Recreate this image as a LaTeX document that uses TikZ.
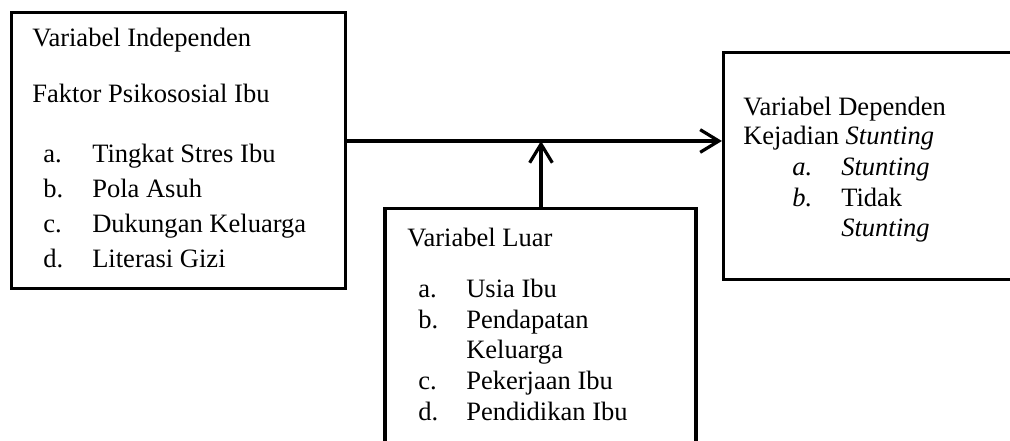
\documentclass[tikz,border=0pt]{standalone}
\usepackage{fontspec}
\setmainfont{Liberation Serif}
\usetikzlibrary{arrows.meta,fit}
\begin{document}
\begin{tikzpicture}[x=0.75pt,y=-0.75pt,
  box/.style={draw,line width=2.4pt,inner sep=0pt},
  txt/.style={anchor=base west,inner sep=0pt,font=\fontsize{19.9}{24}\selectfont},
  conn/.style={line width=2.4pt,-{Straight Barb[length=14pt,width=17pt,line width=2.4pt]}},
  plain/.style={line width=2.4pt}]
\useasboundingbox (0,0) rectangle (1010,441);
\clip (0,0) rectangle (1010,441);
% boxes
\coordinate (a1) at (11.5,12.5); \coordinate (a2) at (345.5,288.5);
\node[box,fit=(a1)(a2)] (iv) {};
\coordinate (b1) at (385,208.5); \coordinate (b2) at (696,470);
\node[box,fit=(b1)(b2)] (lu) {};
\coordinate (c1) at (723.5,52.5); \coordinate (c2) at (1030,279.5);
\node[box,fit=(c1)(c2)] (dv) {};
% texts box 1
\node[txt] (t1) at (32,47) {Variabel Independen};
\node[txt] (t2) at (32,103) {Faktor Psikososial Ibu};
\node[txt] (l1a) at (43,163) {a.};
\node[txt] (l1b) at (43,198) {b.};
\node[txt] (l1c) at (43,233) {c.};
\node[txt] (l1d) at (43,268) {d.};
\node[txt] (i1a) at (92,163) {Tingkat Stres Ibu};
\node[txt] (i1b) at (92,198) {Pola Asuh};
\node[txt] (i1c) at (92,233) {Dukungan Keluarga};
\node[txt] (i1d) at (92,268) {Literasi Gizi};
% texts box 2
\node[txt] (t3) at (407,247) {Variabel Luar};
\node[txt] (l2a) at (418,298) {a.};
\node[txt] (l2b) at (418,329) {b.};
\node[txt] (l2c) at (418,390) {c.};
\node[txt] (l2d) at (418,421) {d.};
\node[txt] (i2a) at (466,298) {Usia Ibu};
\node[txt] (i2b) at (466,329) {Pendapatan};
\node[txt] (i2b2) at (466,359) {Keluarga};
\node[txt] (i2c) at (466,390) {Pekerjaan Ibu};
\node[txt] (i2d) at (466,421) {Pendidikan Ibu};
% texts box 3
\node[txt] (t4) at (743,116) {Variabel Dependen};
\node[txt] (t5) at (743,145) {Kejadian \textit{Stunting}};
\node[txt] (l3a) at (792,176) {\textit{a.}};
\node[txt] (l3b) at (792,207) {\textit{b.}};
\node[txt] (i3a) at (841,176) {\textit{Stunting}};
\node[txt] (i3b) at (841,207) {Tidak};
\node[txt] (i3b2) at (841,237) {\textit{Stunting}};
% connectors
\coordinate (j) at (541,141);
\draw[conn] (iv.east |- j) -- (dv.west |- j);
\draw[conn] (j |- lu.north) -- (j);
\end{tikzpicture}
\end{document}
